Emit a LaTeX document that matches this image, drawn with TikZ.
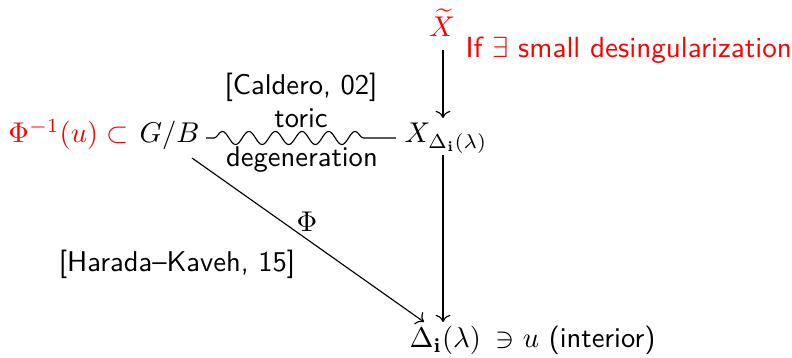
\documentclass[tikz,border=0pt]{standalone}
\usetikzlibrary{decorations.pathmorphing,arrows.meta}
\begin{document}
\begin{tikzpicture}[x=0.35pt,y=-0.35pt,
  lbl/.style={inner sep=0pt,font=\sffamily},
  mth/.style={inner sep=0pt},
  redt/.style={text=red},
  arr/.style={->,line width=0.4pt},
  squig/.style={decorate,decoration={snake,amplitude=2.3pt,segment length=9.3pt,pre length=2.8pt,post length=7pt}}]
\useasboundingbox (0,0) rectangle (792,358);
% nodes
\node[mth,redt,anchor=base east] (phiinv) at (129,143) {$\Phi^{-1}(u)\subset$};
\node[mth,anchor=base west] (gb) at (139,143) {$G/B$};
\node[mth,anchor=base west] (xd) at (404,143) {$X_{\Delta_{\mathbf{i}}(\lambda)}$};
\node[mth,redt,anchor=base] (xt) at (442,37) {$\widetilde{X}$};
\node[lbl,redt,anchor=base west,scale=1.02] (ifsmall) at (465,58) {If $\exists$ small desingularization};
\node[mth,anchor=base west] (delta) at (409,348) {$\Delta_{\mathbf{i}}(\lambda)$};
\node[lbl,anchor=base east] (interior) at (656,348) {$\ni u$ (interior)};
\node[lbl,anchor=base] (caldero) at (301,95) {[Caldero, 02]};
\node[lbl,anchor=base] (harada) at (177,272) {[Harada--Kaveh, 15]};
\node[lbl,anchor=base] (toric) at (301,128) {toric};
\node[lbl,anchor=base] (degen) at (302,167) {degeneration};
\node[mth,anchor=base] (philbl) at (307,232) {$\Phi$};
% coordinates for connector ends
\coordinate (gbend) at (206,138);
\coordinate (xdend) at (396,138);
\coordinate (xttop) at (443,50);
\coordinate (xdtop) at (443,118);
\coordinate (xdbot) at (443,155);
\coordinate (deltatop) at (443,322);
\coordinate (gbdiag) at (192,158);
\coordinate (deltadiag) at (424,322);
% connectors
\draw[squig] (gbend) -- (xdend);
\draw[arr] (xttop) -- (xdtop);
\draw[arr] (xdbot) -- (deltatop);
\draw[arr] (gbdiag) -- (deltadiag);
\end{tikzpicture}
\end{document}
